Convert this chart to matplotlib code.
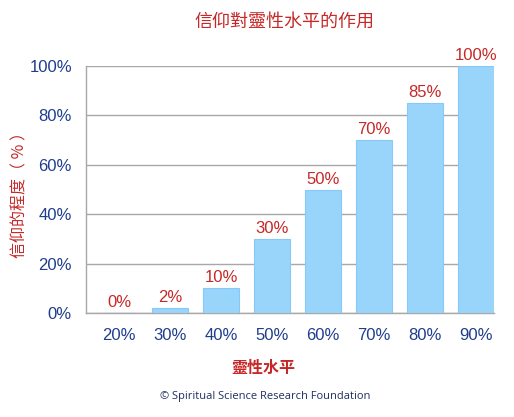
import matplotlib
matplotlib.use('Agg')
import matplotlib.pyplot as plt

plt.rcParams['font.family'] = ['Liberation Sans', 'Noto Sans CJK TC', 'DejaVu Sans']

# data
levels = ['20%', '30%', '40%', '50%', '60%', '70%', '80%', '90%']
faith = [0, 2, 10, 30, 50, 70, 85, 100]
yticks = [0, 20, 40, 60, 80, 100]

BLUE = '#1f3d8f'
RED = '#c62828'
BAR = '#99d4fb'
GRID = '#a8a8a8'
CJK = ['Noto Sans CJK TC', 'DejaVu Sans']

fig = plt.figure(figsize=(5.14, 4.17), dpi=100)
ax = fig.add_axes([0.167, 0.249, 0.794, 0.593])

x = range(len(levels))
ax.bar(x, faith, width=0.69, color=BAR, edgecolor='#86c9f6', linewidth=0.8, zorder=3)
for xi, v in zip(x, faith):
    ax.text(xi, v + 1.2, '%d%%' % v, ha='center', va='bottom', color=RED, fontsize=12)

ax.set_xlim(-0.65, 7.35)
ax.set_ylim(0, 100)
ax.set_yticks(yticks)
ax.set_yticklabels(['%d%%' % t for t in yticks])
ax.set_xticks(list(x))
ax.set_xticklabels(levels)
ax.tick_params(axis='both', length=0, colors=BLUE, labelsize=12)
ax.tick_params(axis='y', pad=10)
ax.tick_params(axis='x', pad=11)
ax.grid(axis='y', color=GRID, linewidth=1, zorder=0)
for s in ['top', 'right']:
    ax.spines[s].set_visible(False)
for s in ['left', 'bottom']:
    ax.spines[s].set_color(GRID)
    ax.spines[s].set_linewidth(1)

fig.text(0.553, 0.947, '信仰對靈性水平的作用', ha='center', va='center', color=RED,
         fontsize=13, family=CJK)
fig.text(0.039, 0.542, '信仰的程度（ % ）', ha='center', va='center', rotation=90, color=RED,
         fontsize=11.5, family=CJK)
fig.text(0.512, 0.118, '靈性水平', ha='center', va='center', color=RED,
         fontsize=11.5, fontweight='bold', family=CJK)
fig.text(0.516, 0.05, '© Spiritual Science Research Foundation', ha='center', va='center',
         color='#1f3060', fontsize=8, family=['Open Sans', 'DejaVu Sans'])

fig.savefig('out.png', dpi=100, facecolor='white')
